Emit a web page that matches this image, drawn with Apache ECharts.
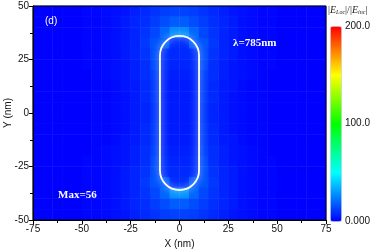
<!DOCTYPE html>
<html><head><meta charset="utf-8">
<script src="https://cdn.jsdelivr.net/npm/echarts@6/dist/echarts.min.js"></script>
<style>html,body{margin:0;padding:0;background:#fff}#c{width:371px;height:252px}</style>
</head><body><div id="c"></div>
<script>
// cell centres (nm)
const xCenters = [-72.5,-67.5,-62.5,-57.5,-52.5,-47.5,-42.5,-37.5,-32.5,-27.5,-22.5,-17.5,-12.5,-7.5,-2.5,2.5,7.5,12.5,17.5,22.5,27.5,32.5,37.5,42.5,47.5,52.5,57.5,62.5,67.5,72.5];
const yCenters = [47.5,42.5,37.5,32.5,27.5,22.5,17.5,12.5,7.5,2.5,-2.5,-7.5,-12.5,-17.5,-22.5,-27.5,-32.5,-37.5,-42.5,-47.5];
// |E_loc|/|E_inc|, rows top (y=47.5) to bottom (y=-47.5)
const fieldRows = [
 [0,0,0,0,0,1,1,2,3,4,6,8,10,12,13,13,12,10,8,6,4,3,2,1,1,0,0,0,0,0],
 [0,0,0,0,0,1,1,2,3,5,7,9,12,15,18,18,15,12,9,7,5,3,2,1,1,0,0,0,0,0],
 [0,0,0,0,0,1,1,2,3,5,7,10,14,20,27,27,20,14,10,7,5,3,2,1,1,0,0,0,0,0],
 [0,0,0,0,0,1,1,2,3,5,7,11,16,17,9,9,17,16,11,7,5,3,2,1,1,0,0,0,0,0],
 [0,0,0,0,0,1,1,2,3,5,7,10,15,9,8,8,9,15,10,7,5,3,2,1,1,0,0,0,0,0],
 [0,0,0,0,0,1,1,2,3,4,6,9,14,8,7,7,8,14,9,6,4,3,2,1,1,0,0,0,0,0],
 [0,0,0,0,0,0,1,2,3,4,6,9,12,7,6,6,7,12,9,6,4,3,2,1,0,0,0,0,0,0],
 [0,0,0,0,0,0,1,1,2,4,5,8,11,6,5,5,6,11,8,5,4,2,1,1,0,0,0,0,0,0],
 [0,0,0,0,0,0,1,1,2,3,5,8,11,6,5,5,6,11,8,5,3,2,1,1,0,0,0,0,0,0],
 [0,0,0,0,0,0,1,1,2,3,5,7,10,6,5,5,6,10,7,5,3,2,1,1,0,0,0,0,0,0],
 [0,0,0,0,0,0,1,1,2,3,5,7,10,6,5,5,6,10,7,5,3,2,1,1,0,0,0,0,0,0],
 [0,0,0,0,0,0,1,1,2,3,5,8,11,6,5,5,6,11,8,5,3,2,1,1,0,0,0,0,0,0],
 [0,0,0,0,0,0,1,1,2,4,5,8,11,6,5,5,6,11,8,5,4,2,1,1,0,0,0,0,0,0],
 [0,0,0,0,0,0,1,2,3,4,6,9,12,7,6,6,7,12,9,6,4,3,2,1,0,0,0,0,0,0],
 [0,0,0,0,0,1,1,2,3,4,6,9,14,8,7,7,8,14,9,6,4,3,2,1,1,0,0,0,0,0],
 [0,0,0,0,0,1,1,2,3,5,7,10,15,9,8,8,9,15,10,7,5,3,2,1,1,0,0,0,0,0],
 [0,0,0,0,0,1,1,2,3,5,7,11,16,17,9,9,17,16,11,7,5,3,2,1,1,0,0,0,0,0],
 [0,0,0,0,0,1,1,2,3,5,7,10,14,20,28,28,20,14,10,7,5,3,2,1,1,0,0,0,0,0],
 [0,0,0,0,0,1,1,2,3,5,7,9,12,15,18,18,15,12,9,7,5,3,2,1,1,0,0,0,0,0],
 [0,0,0,0,0,1,1,2,3,4,6,8,10,12,13,13,12,10,8,6,4,3,2,1,1,0,0,0,0,0]
];
// rod outline: [xMin, yMin, xMax, yMax] in nm
const rod = [-10, -36, 10, 36];
const xTicks = [-75, 75, 25];   // min, max, interval
const yTicks = [-50, 50, 25];
const barRange = [0, 200, 100];
const rainbow = ['#0000ff','#00ffff','#00ff00','#ffff00','#ff0000'];

const heat = [];
fieldRows.forEach((row, j) => row.forEach((v, i) => heat.push([i, j, v])));

const chart = echarts.init(document.getElementById('c'), null, {renderer:'canvas'});
const lab = {color:'#111', fontSize:10, fontFamily:'Liberation Sans, Arial, sans-serif'};
chart.setOption({
  animation:false,
  grid:[
    {left:33, right:45, top:6, bottom:32, show:true, borderColor:'#000', borderWidth:1, backgroundColor:'transparent', z:5, outerBoundsMode:'none', containLabel:false},
    {left:330, top:26, width:11, height:195, show:false, outerBoundsMode:'none', containLabel:false}
  ],
  xAxis:[
    {type:'category', data:xCenters, show:false, gridIndex:0},
    {type:'value', gridIndex:0, position:'bottom', min:xTicks[0], max:xTicks[1], interval:xTicks[2], z:6,
     axisLine:{show:true, lineStyle:{color:'#000', width:1}}, axisTick:{show:true, inside:false, length:4, lineStyle:{color:'#000'}},
     minorTick:{show:true, splitNumber:2, length:3, lineStyle:{color:'#000'}}, splitLine:{show:false},
     axisLabel:Object.assign({margin:4}, lab),
     name:'X (nm)', nameLocation:'middle', nameGap:19, nameTextStyle:Object.assign({}, lab, {fontSize:10})},
    {type:'value', gridIndex:1, show:false, min:0, max:1}
  ],
  yAxis:[
    {type:'category', data:yCenters, inverse:true, show:false, gridIndex:0},
    {type:'value', gridIndex:0, position:'left', min:yTicks[0], max:yTicks[1], interval:yTicks[2], z:6,
     axisLine:{show:true, lineStyle:{color:'#000', width:1}}, axisTick:{show:true, inside:false, length:4, lineStyle:{color:'#000'}},
     minorTick:{show:true, splitNumber:2, length:3, lineStyle:{color:'#000'}}, splitLine:{show:false},
     axisLabel:Object.assign({margin:4}, lab)},
    {type:'value', gridIndex:1, position:'right', min:barRange[0], max:barRange[1], interval:barRange[2],
     axisLine:{show:false}, axisTick:{show:false}, splitLine:{show:false},
     axisLabel:Object.assign({margin:4, formatter:v => v === 0 ? '0.000' : v.toFixed(1)}, lab)}
  ],
  visualMap:{
    type:'continuous', min:barRange[0], max:barRange[1], seriesIndex:0, calculable:false,
    left:330, top:26, itemWidth:11, itemHeight:195, padding:0, text:null, showLabel:false,
    borderColor:'#d8d8f0', borderWidth:1,
    inRange:{color:rainbow}
  },
  series:[
    {type:'heatmap', xAxisIndex:0, yAxisIndex:0, data:heat, progressive:0, emphasis:{disabled:true}},
    {type:'custom', xAxisIndex:1, yAxisIndex:1, data:[rod], silent:true, z:4,
     renderItem:(params, api) => {
       const p0 = api.coord([api.value(0), api.value(3)]);
       const p1 = api.coord([api.value(2), api.value(1)]);
       const w = p1[0]-p0[0], h = p1[1]-p0[1];
       return {type:'rect', shape:{x:p0[0], y:p0[1], width:w, height:h, r:w/2},
         style:{fill:null, stroke:'#ffffff', lineWidth:1.8, shadowBlur:7, shadowColor:'rgba(210,255,255,1)'}};
     }}
  ],
  graphic:[
    {type:'text', x:8, y:113, rotation:Math.PI/2, z:10, style:{text:'Y (nm)', fill:'#111', align:'center', verticalAlign:'middle', font:'10px "Liberation Sans", Arial, sans-serif'}},
    {type:'text', left:45, top:16, z:10, style:{text:'(d)', fill:'#fff', font:'10px "Liberation Sans", Arial, sans-serif'}},
    {type:'text', left:233, top:38, z:10, style:{text:'λ=785nm', fill:'#fff', font:'bold 11px "Liberation Serif", "Times New Roman", serif'}},
    {type:'text', left:58, top:190, z:10, style:{text:'Max=56', fill:'#fff', font:'bold 11px "Liberation Serif", "Times New Roman", serif'}},
    {type:'text', left:328, top:5, z:10, style:{
      text:'|{e|E}{s|Loc}|/|{e|E}{s|inc}|',
      rich:{e:{fontStyle:'italic', fontSize:10, fontFamily:'Liberation Serif, serif', fill:'#222'},
            s:{fontStyle:'italic', fontSize:6, fontFamily:'Liberation Serif, serif', fill:'#222', padding:[4,0,0,0]}},
      fill:'#222', font:'10px "Liberation Serif", serif'}}
  ]
});
</script></body></html>
